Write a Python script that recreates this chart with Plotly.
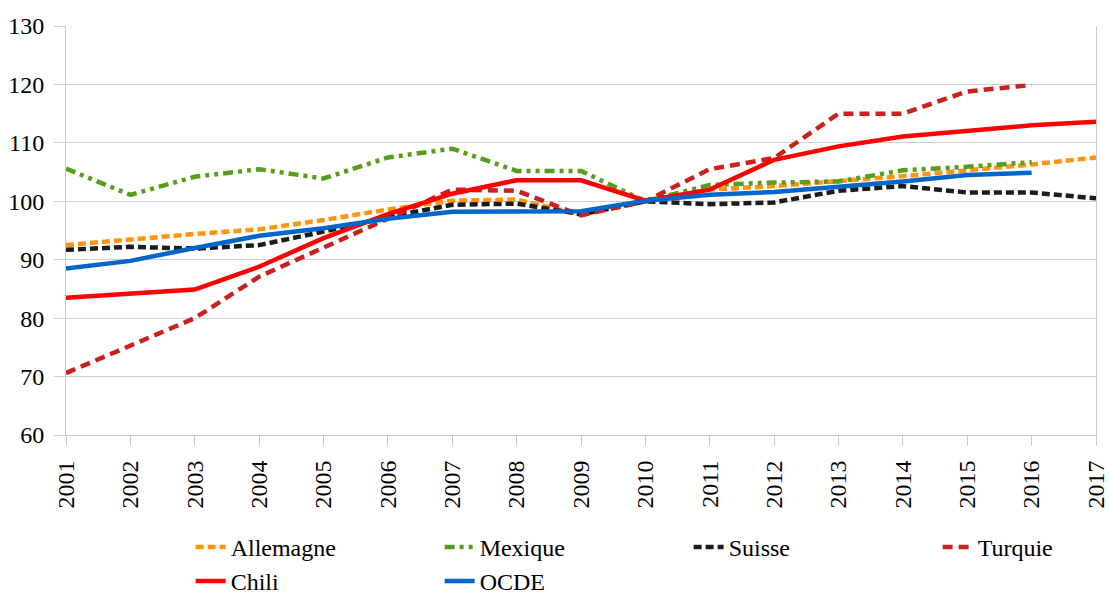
import plotly.graph_objects as go

years = list(range(2001, 2018))

allemagne = [92.5, 93.5, 94.4, 95.2, 96.8, 98.6, 100.1, 100.3, 97.7, 100.0, 102.0, 102.6, 103.4, 104.3, 105.3, 106.3, 107.5]
mexique = [105.6, 101.1, 104.2, 105.5, 103.9, 107.5, 109.0, 105.2, 105.2, 100.0, 102.8, 103.2, 103.4, 105.3, 105.9, 106.7]
suisse = [91.7, 92.2, 91.9, 92.5, 94.8, 97.3, 99.4, 99.6, 97.8, 100.0, 99.5, 99.8, 101.8, 102.6, 101.5, 101.5, 100.5]
turquie = [70.6, 75.4, 80.0, 87.1, 92.1, 96.9, 102.0, 101.8, 97.6, 100.0, 105.5, 107.4, 115.0, 115.0, 118.8, 119.9]
chili = [83.5, 84.2, 84.9, 88.8, 93.7, 97.8, 101.3, 103.6, 103.6, 100.1, 102.0, 107.1, 109.4, 111.1, 112.1, 113.0, 113.6]
ocde = [88.5, 89.8, 92.0, 94.1, 95.4, 97.0, 98.2, 98.2, 98.3, 100.1, 101.1, 101.6, 102.5, 103.4, 104.5, 104.9]

series = [
    ("Allemagne", allemagne, "#FF950E", "8px,4px"),
    ("Mexique", mexique, "#579D1C", "10px,5px,4px,5px,4px,5px"),
    ("Suisse", suisse, "#1C1C1C", "8px,4px"),
    ("Turquie", turquie, "#C9211E", "10px,6px"),
    ("Chili", chili, "#FF0000", "solid"),
    ("OCDE", ocde, "#0066CC", "solid"),
]

fig = go.Figure()
for name, vals, color, dash in series:
    fig.add_trace(go.Scatter(
        x=years[:len(vals)], y=vals, name=name, mode="lines",
        line=dict(color=color, width=4.5, dash=dash),
    ))

font_family = "Liberation Serif, serif"
tick_font = dict(family=font_family, size=24, color="black")
fig.update_layout(
    width=1109, height=594,
    margin=dict(l=66, r=13, t=26, b=159, autoexpand=False),
    paper_bgcolor="white", plot_bgcolor="white",
    font=dict(family=font_family, size=24, color="black"),
    showlegend=True,
    legend=dict(
        orientation="h", x=0.121, xref="paper", xanchor="left",
        y=0.1165, yref="container", yanchor="top",
        entrywidth=204, entrywidthmode="pixels",
        font=dict(family=font_family, size=24, color="black"),
        tracegroupgap=0, bgcolor="rgba(0,0,0,0)",
    ),
)
fig.update_xaxes(
    range=[2001, 2017], tickmode="array", tickvals=years, ticktext=[str(y) for y in years],
    tickangle=-90, showgrid=False, showline=True, linecolor="#c8c8c8", linewidth=1,
    ticks="outside", ticklen=10, tickcolor="#c8c8c8", ticklabelstandoff=5,
    tickfont=tick_font, ticklabeloverflow="allow", zeroline=False,
)
fig.update_yaxes(
    range=[60, 130], dtick=10, showgrid=True, gridcolor="#d0d0d0", gridwidth=1,
    showline=True, linecolor="#c8c8c8", linewidth=1, mirror=True,
    ticks="outside", ticklen=11, tickcolor="#d0d0d0", ticklabelstandoff=5,
    tickfont=tick_font, zeroline=False,
)

fig.write_html(
    "out.html",
    config={"displayModeBar": False},
    post_script="document.body.style.margin='0';document.body.style.overflow='hidden';",
)
